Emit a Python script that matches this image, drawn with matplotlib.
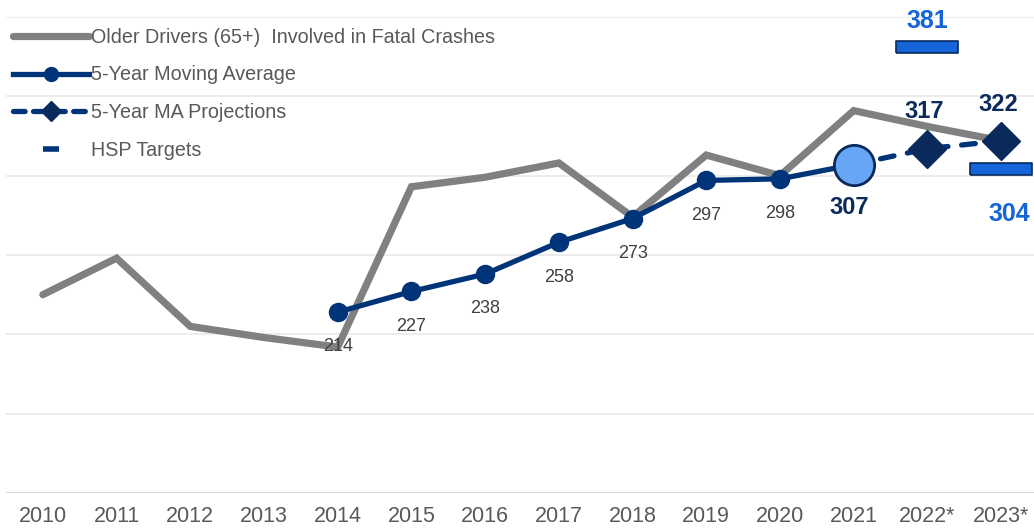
import matplotlib
matplotlib.use("Agg")
import matplotlib.pyplot as plt
from matplotlib.lines import Line2D

REG = "Liberation Sans"

categories = ["2010", "2011", "2012", "2013", "2014", "2015", "2016",
              "2017", "2018", "2019", "2020", "2021", "2022*", "2023*"]
older_drivers = [225, 248, 205, 198, 192, 293, 299, 308, 274, 313, 300, 341, 331, 322]
ma_years = ["2014", "2015", "2016", "2017", "2018", "2019", "2020", "2021"]
ma_values = [214, 227, 238, 258, 273, 297, 298, 307]
proj_years = ["2021", "2022*", "2023*"]
proj_values = [307, 317, 322]
target_years = ["2022*", "2023*"]
target_values = [381, 304]

GRAY = "#808080"
NAVY = "#003478"
DNAVY = "#0b2a5c"
BRIGHT = "#1565d8"
LIGHT = "#66a6f5"
TXT = "#595959"

idx = {c: i for i, c in enumerate(categories)}
xo = list(range(len(categories)))
xm = [idx[c] for c in ma_years]
xp = [idx[c] for c in proj_years]
xt = [idx[c] for c in target_years]

fig = plt.figure(figsize=(10.34, 5.29), dpi=100)
ax = fig.add_axes([6 / 1034, 36 / 529, 1032 / 1034, 476 / 529])
ax.set_xlim(-0.5, len(categories) - 0.5)
ax.set_ylim(100, 400)

for v in range(150, 401, 50):
    ax.axhline(v, color="#ebebeb", lw=1.3, zorder=0)
ax.axhline(100, color="#d9d9d9", lw=2.2, zorder=0)
for s in ax.spines.values():
    s.set_visible(False)
ax.set_yticks([])
ax.set_xticks(xo)
ax.set_xticklabels(categories, fontsize=15.5, color=TXT, family=REG)
ax.tick_params(axis="x", length=0, pad=9)

ax.plot(xo, older_drivers, color=GRAY, lw=5.2, solid_capstyle="round",
        solid_joinstyle="miter", zorder=2)
ax.plot(xm, ma_values, color=NAVY, lw=3.8, marker="o", ms=13, zorder=3)
ax.plot(xp, proj_values, color=NAVY, lw=3.8, ls=(0, (2.6, 2.6)),
        dash_capstyle="round", zorder=3)
ax.plot(xp[1:], proj_values[1:], ls="none", marker="D", ms=19, color=DNAVY,
        zorder=4)
ax.plot(xm[-1:], ma_values[-1:], ls="none", marker="o", ms=29,
        markerfacecolor=LIGHT, markeredgecolor=DNAVY, mew=2, zorder=5)

rect = [(-1, -0.2), (1, -0.2), (1, 0.2), (-1, 0.2), (-1, -0.2)]
ax.plot(xt, target_values, ls="none", marker=rect, ms=45,
        markerfacecolor=BRIGHT, markeredgecolor=DNAVY, mew=1.2, zorder=4,
        clip_on=False)

for x, v in zip(xm[:-1], ma_values[:-1]):
    ax.annotate(str(v), (x, v), xytext=(0, -25), textcoords="offset points",
                ha="center", va="center", fontsize=13, color="#404040",
                family=REG, zorder=6)
ax.annotate(str(ma_values[-1]), (xm[-1], ma_values[-1]), xytext=(-3, -31),
            textcoords="offset points", ha="center", va="center",
            fontsize=17, fontweight="bold", color=DNAVY, family=REG)
ax.annotate(str(proj_values[1]), (xp[1], proj_values[1]), xytext=(-2, 27),
            textcoords="offset points", ha="center", va="center", fontsize=17,
            fontweight="bold", color=DNAVY, family=REG)
ax.annotate(str(proj_values[2]), (xp[2], proj_values[2]), xytext=(-2, 26),
            textcoords="offset points", ha="center", va="center", fontsize=17,
            fontweight="bold", color=DNAVY, family=REG)
ax.annotate(str(target_values[0]), (xt[0], target_values[0]), xytext=(0, 19),
            textcoords="offset points", ha="center", va="center", fontsize=18,
            fontweight="bold", color=BRIGHT, family=REG, annotation_clip=False)
ax.annotate(str(target_values[1]), (xt[1], target_values[1]), xytext=(6, -32),
            textcoords="offset points", ha="center", va="center", fontsize=18,
            fontweight="bold", color=BRIGHT, family=REG, annotation_clip=False)

handles = [
    Line2D([], [], color=GRAY, lw=5.2, solid_capstyle="round"),
    Line2D([], [], color=NAVY, lw=3.8, marker="o", ms=10),
    Line2D([], [], color=NAVY, lw=3.8, ls=(0, (2.2, 1.6)), marker="D", ms=10,
           dash_capstyle="round", markerfacecolor=DNAVY, markeredgecolor=DNAVY),
    Line2D([], [], ls="none", marker="_", ms=11, mew=4, color=NAVY),
]
labels = ["Older Drivers (65+)  Involved in Fatal Crashes",
          "5-Year Moving Average", "5-Year MA Projections", "HSP Targets"]
leg = fig.legend(handles, labels, loc="upper left",
                 bbox_to_anchor=(-5 / 1034, 1.0 - 10 / 529), frameon=False,
                 handlelength=3.85, handletextpad=0.12, labelspacing=0.95,
                 prop={"family": REG, "size": 14.2})
for t in leg.get_texts():
    t.set_color(TXT)

fig.savefig("out.png", dpi=100)
